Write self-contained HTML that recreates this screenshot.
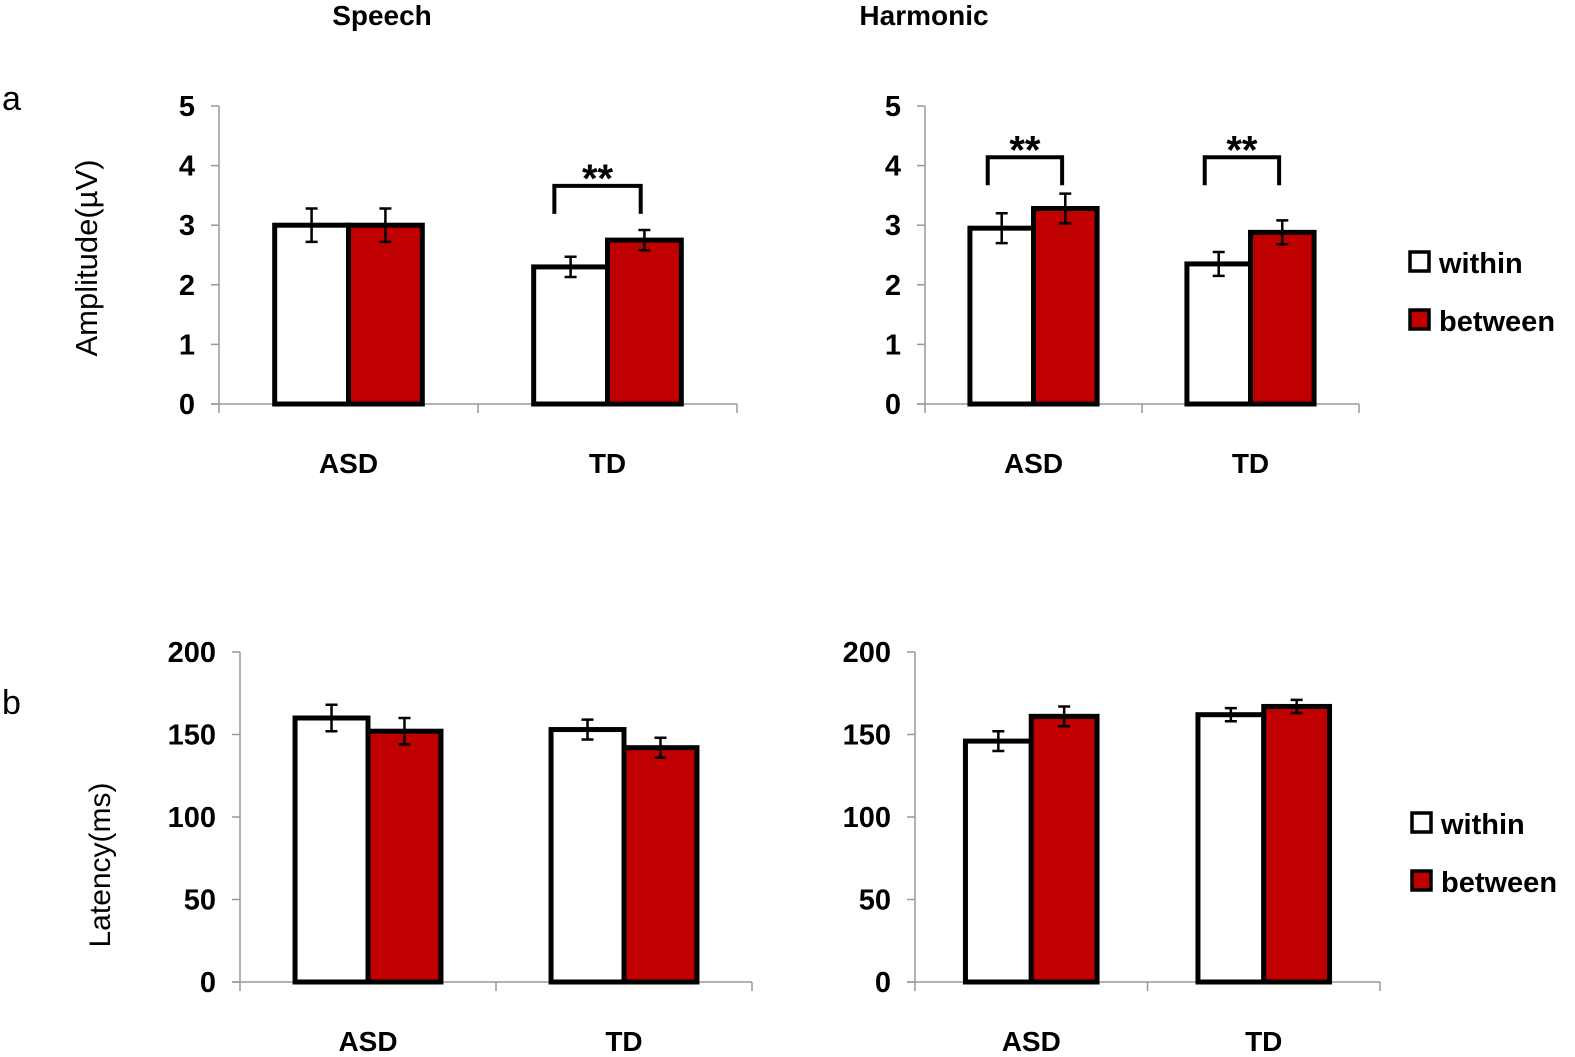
<!DOCTYPE html>
<html><head><meta charset="utf-8"><style>
html,body{margin:0;padding:0;background:#fff;}
svg{display:block;font-family:"Liberation Sans",sans-serif;}
</style></head><body>
<svg id="chart" width="1575" height="1057" viewBox="0 0 1575 1057">
<text x="382" y="25" text-anchor="middle" font-size="28" font-weight="bold">Speech</text>
<text x="924" y="25" text-anchor="middle" font-size="28" font-weight="bold">Harmonic</text>
<text x="2" y="110" font-size="34">a</text>
<text x="2" y="714" font-size="34">b</text>
<text transform="translate(97,258) rotate(-90)" text-anchor="middle" font-size="31">Amplitude(µV)</text>
<text transform="translate(110,865) rotate(-90)" text-anchor="middle" font-size="30">Latency(ms)</text>
</svg>
<script>
const categories = ["ASD","TD"];
const seriesNames = ["within","between"];
const ampSpeechWithin = [3.0, 2.3];
const ampSpeechBetween = [3.0, 2.75];
const ampSpeechErrW = [0.28, 0.17];
const ampSpeechErrB = [0.28, 0.17];
const ampHarmWithin = [2.95, 2.35];
const ampHarmBetween = [3.28, 2.88];
const ampHarmErrW = [0.25, 0.2];
const ampHarmErrB = [0.25, 0.2];
const latSpeechWithin = [160, 153];
const latSpeechBetween = [152, 142];
const latSpeechErrW = [8, 6];
const latSpeechErrB = [8, 6];
const latHarmWithin = [146, 162];
const latHarmBetween = [161, 167];
const latHarmErrW = [6, 4];
const latHarmErrB = [6, 4];
const ampTicks = [0,1,2,3,4,5];
const latTicks = [0,50,100,150,200];
const speechSigLevel = [null, 3.66];
const harmSigLevel = [4.14, 4.14];

const svg = document.getElementById('chart');
const NS = 'http://www.w3.org/2000/svg';
function mk(tag, attrs, parent){
  const e = document.createElementNS(NS, tag);
  for (const k in attrs) e.setAttribute(k, attrs[k]);
  (parent||svg).appendChild(e);
  return e;
}
function panel(p){
  const g = mk('g', {});
  
  
  const max = p.ticks[p.ticks.length-1];
  const y = v => p.y0 - (v/max)*(p.y0-p.yTop);
  const gw = (p.x1-p.x0)/categories.length;
  const bw = gw*p.barFrac;
  const ya = mk('line',{x1:p.x0,y1:p.yTop,x2:p.x0,y2:p.y0,stroke:'#999','stroke-width':1.5},g);
   
  const xa = mk('line',{x1:p.x0-8,y1:p.y0,x2:p.x1,y2:p.y0,stroke:'#999','stroke-width':1.5},g);
   
  for (let i=0;i<=categories.length;i++){
    const tx = p.x0+gw*i;
    const t = mk('line',{x1:tx,y1:p.y0,x2:tx,y2:p.y0+9,stroke:'#999','stroke-width':1.5},g);
     
  }
  p.ticks.forEach(v=>{
    const t = mk('line',{x1:p.x0-8,y1:y(v),x2:p.x0,y2:y(v),stroke:'#999','stroke-width':1.5},g);
     
    const l = mk('text',{x:p.x0-24,y:y(v)+10,'text-anchor':'end','font-size':29,'font-weight':'bold'},g);
    l.textContent = v;
     
  });
  categories.forEach((c,i)=>{
    const cx = p.x0+gw*(i+0.5);
    const series = [[p.w,p.ew,'#fff'],[p.b,p.eb,'#c00000']];
    series.forEach((s,j)=>{
      const bx = cx - bw + j*bw;
      const r = mk('rect',{x:bx,y:y(s[0][i]),width:bw,height:p.y0-y(s[0][i]),fill:s[2],stroke:'#000','stroke-width':5},g);
      
      
      const ex = bx+bw/2, hi=y(s[0][i]+s[1][i]), lo=y(s[0][i]-s[1][i]);
      const e = mk('path',{d:`M${ex},${hi}V${lo}M${ex-6},${hi}H${ex+6}M${ex-6},${lo}H${ex+6}`,stroke:'#000','stroke-width':2.5,fill:'none'},g);
      
      
    });
    const cl = mk('text',{x:cx,y:p.catY,'text-anchor':'middle','font-size':28,'font-weight':'bold'},g);
    cl.textContent = c;
     
    if (p.sig && p.sig[i] != null){
      const by = y(p.sig[i]);
      const xa1 = cx - bw*0.72, xa2 = cx + bw*0.45;
      const br = mk('path',{d:`M${xa1},${by+28}V${by}H${xa2}V${by+28}`,stroke:'#000','stroke-width':4,fill:'none'},g);
       
      const st = mk('text',{x:(xa1+xa2)/2,y:by+6,'text-anchor':'middle','font-size':40,'font-weight':'bold'},g);
      st.textContent = '**';
       
    }
  });
}
function legend(x,y1,y2){
  [[y1,'#fff','within'],[y2,'#c00000','between']].forEach(l=>{
    const r = mk('rect',{x:x,y:l[0]-10,width:19,height:19,fill:l[1],stroke:'#000','stroke-width':3.5});
     
    const t = mk('text',{x:x+29,y:l[0]+11,'font-size':29,'font-weight':'bold'});
    t.textContent = l[2];
     
  });
}
panel({name:'amplitude-speech-chart',x0:219,x1:737,y0:404,yTop:106,ticks:ampTicks,barFrac:0.285,catY:473,w:ampSpeechWithin,b:ampSpeechBetween,ew:ampSpeechErrW,eb:ampSpeechErrB,sig:speechSigLevel});
panel({name:'amplitude-harmonic-chart',x0:925,x1:1359,y0:404,yTop:106,ticks:ampTicks,barFrac:0.293,catY:473,w:ampHarmWithin,b:ampHarmBetween,ew:ampHarmErrW,eb:ampHarmErrB,sig:harmSigLevel});
panel({name:'latency-speech-chart',x0:240,x1:752,y0:982,yTop:652,ticks:latTicks,barFrac:0.285,catY:1051,w:latSpeechWithin,b:latSpeechBetween,ew:latSpeechErrW,eb:latSpeechErrB});
panel({name:'latency-harmonic-chart',x0:915,x1:1380,y0:982,yTop:652,ticks:latTicks,barFrac:0.283,catY:1051,w:latHarmWithin,b:latHarmBetween,ew:latHarmErrW,eb:latHarmErrB});
legend(1410,262,320);
legend(1412,823,881);
</script>
</body></html>
